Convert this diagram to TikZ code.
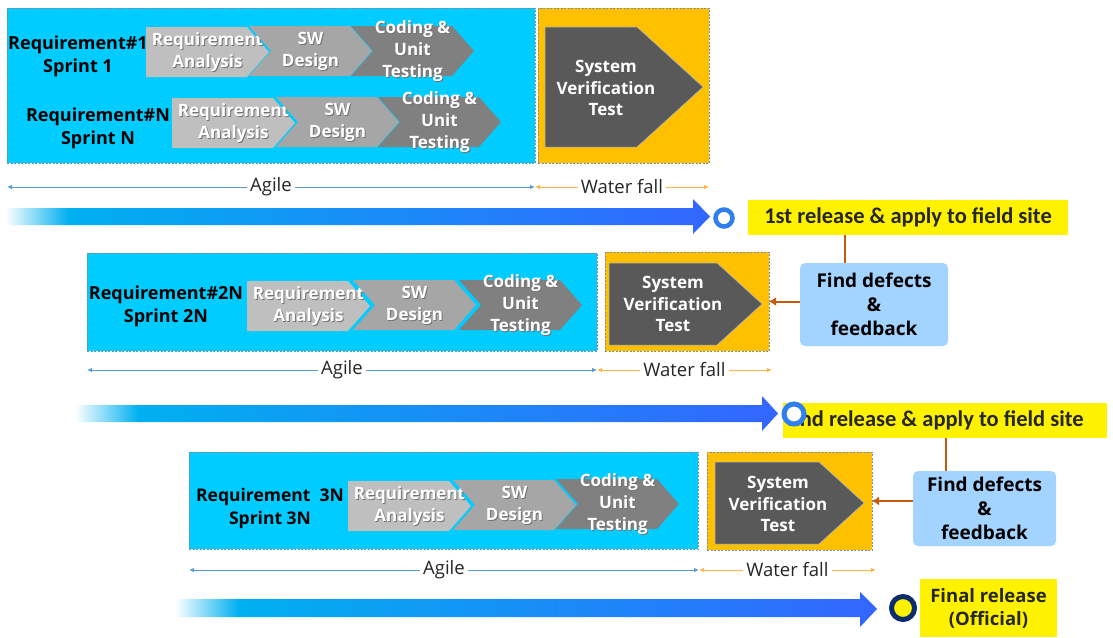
\documentclass[tikz,border=0pt]{standalone}
\usepackage{fontspec}
\setmainfont{Open Sans}
\newfontfamily\relfont{Carlito}
\usetikzlibrary{arrows.meta}

\definecolor{agcyan}{HTML}{00CCFF}
\definecolor{wforange}{HTML}{FFC000}
\definecolor{chgrayA}{HTML}{BFBFBF}
\definecolor{chgrayB}{HTML}{A6A6A6}
\definecolor{chgrayC}{HTML}{808080}
\definecolor{svtgray}{HTML}{595959}
\definecolor{boxedge}{HTML}{7A8CA8}
\definecolor{agblue}{HTML}{5B9BD5}
\definecolor{wfline}{HTML}{FFB347}
\definecolor{relcyan}{HTML}{00B0F0}
\definecolor{relblue}{HTML}{3366FF}
\definecolor{ringblue}{HTML}{2F80ED}
\definecolor{ringnavy}{HTML}{0B2D6B}
\definecolor{fbblue}{HTML}{A3D3FF}
\definecolor{fbbrown}{HTML}{C55A11}

\pgfdeclarehorizontalshading{relshade}{100bp}{color(0bp)=(white); color(25bp)=(white); color(29.5bp)=(relcyan); color(75bp)=(relblue); color(100bp)=(relblue)}

\tikzset{
  agilebox/.style={fill=agcyan, draw=boxedge, dash pattern=on 2pt off 1.5pt, line width=0.6pt, inner sep=0pt, outer sep=0pt},
  wfbox/.style={agilebox, fill=wforange},
  chevtext/.style={text=white, font=\bfseries\fontsize{17}{22}\selectfont, align=center, inner sep=0pt},
  chevshadow/.style={chevtext, text=black!55},
  svttext/.style={text=white, font=\bfseries\fontsize{17}{21.5}\selectfont, align=center, inner sep=0pt},
  reqlabel/.style={font=\bfseries\fontsize{18}{23}\selectfont, align=center, inner sep=0pt},
  spanlabel/.style={fill=white, text=black!85, font=\fontsize{18.5}{20}\selectfont, inner sep=3pt},
  agileline/.style={agblue, line width=0.8pt, {Latex[length=5pt,width=4.5pt]}-{Latex[length=5pt,width=4.5pt]}},
  wfspan/.style={wfline, line width=0.8pt, {Latex[length=5pt,width=4.5pt]}-{Latex[length=5pt,width=4.5pt]}},
  relbox/.style={fill=yellow, text=black!85, font=\relfont\bfseries\fontsize{22.5}{24}\selectfont, inner sep=0pt, minimum height=35pt},
  fbbox/.style={fill=fbblue, rounded corners=5pt, align=center, inner sep=0pt, font=\bfseries\fontsize{19}{24}\selectfont},
  fbline/.style={fbbrown, line width=2pt},
  fbarrow/.style={fbline, -{Latex[length=7pt,width=9pt]}},
  ring/.style={circle, fill=white, draw=ringblue, inner sep=0pt}
}

% chevron: name, left x, centre y, fill, notch depth, text
\newcommand{\chev}[6]{%
  \fill[#4] (#2,#3-25) -- ++(101,0) -- ++(22,25) -- ++(-22,25) -- ++(-101,0) -- ++(#5,-25) -- cycle;
  \node[chevshadow] at (#2+62.5,#3+1) {#6};
  \node[chevtext] (#1) at (#2+61.5,#3) {#6};}

\begin{document}
\begin{tikzpicture}[x=1pt, y=-1pt]
  \useasboundingbox (0,0) rectangle (1113,637);

  % sprint 1 .. N
  \node[agilebox, minimum width=528pt, minimum height=155pt] (ag1) at (271,85.5) {};
  \node[wfbox, minimum width=171pt, minimum height=155pt] (wf1) at (623.5,85.5) {};
  \node[reqlabel] (req1) at (78,56) {Requirement\#1\\Sprint 1};
  \node[reqlabel] (reqn) at (98,128) {Requirement\#N\\Sprint N};
  \chev{ra1}{146}{52}{chgrayA}{0}{Requirement\\Analysis}
  \chev{sw1}{249}{51}{chgrayB}{22}{SW\\Design}
  \chev{ct1}{351}{51}{chgrayC}{22}{Coding \&\\Unit\\Testing}
  \chev{ran}{172}{123}{chgrayA}{0}{Requirement\\Analysis}
  \chev{swn}{276}{122}{chgrayB}{22}{SW\\Design}
  \chev{ctn}{378}{122}{chgrayC}{22}{Coding \&\\Unit\\Testing}
  \fill[svtgray, draw=boxedge!60, line width=0.5pt] (545,27) -- (637,27) -- (703,87) -- (637,147) -- (545,147) -- cycle;
  \node[svttext] (svt1) at (606,88) {System\\Verification\\Test};

  \coordinate (sp1a) at (7,187);
  \coordinate (sp1b) at (535,187);
  \coordinate (sp1c) at (709,187);
  \draw[agileline] (sp1a) -- node[spanlabel] {Agile} (sp1b);
  \draw[wfspan] (sp1b) -- node[spanlabel] {Water fall} (sp1c);

  \shade[shading=relshade] (5,208) -- (693,208) -- (693,199) -- (710,216.5) -- (693,234) -- (693,225) -- (5,225) -- cycle;
  \node[relbox, minimum width=320pt] (rel1) at (908,217.5) {1st release \& apply to field site};
  \node[ring, minimum size=17pt, line width=4.5pt] (rc1) at (724,218) {};

  % sprint 2N
  \node[agilebox, minimum width=510pt, minimum height=98pt] (ag2) at (342,302) {};
  \node[wfbox, minimum width=164pt, minimum height=99pt] (wf2) at (687,301.5) {};
  \node[reqlabel] (req2) at (166,306) {Requirement\#2N\\Sprint 2N};
  \chev{ra2}{247}{306}{chgrayA}{0}{Requirement\\Analysis}
  \chev{sw2}{353}{305}{chgrayB}{22}{SW\\Design}
  \chev{ct2}{459}{305}{chgrayC}{22}{Coding \&\\Unit\\Testing}
  \fill[svtgray, draw=boxedge!60, line width=0.5pt] (609,263) -- (717,263) -- (762,304) -- (717,345) -- (609,345) -- cycle;
  \node[svttext] (svt2) at (673,304) {System\\Verification\\Test};

  \node[fbbox, minimum width=148pt, minimum height=83pt] (fb1) at (874,304.5) {Find defects\\\&\\feedback};
  \coordinate (fb1top) at (845,235);
  \draw[fbline] (fb1top) -- (fb1top |- fb1.north);
  \draw[fbarrow] (wf2.east -| fb1.west) -- (wf2.east);

  \coordinate (sp2a) at (87,370);
  \coordinate (sp2b) at (597,370);
  \coordinate (sp2c) at (772,370);
  \draw[agileline] (sp2a) -- node[spanlabel] {Agile} (sp2b);
  \draw[wfspan] (sp2b) -- node[spanlabel] {Water fall} (sp2c);

  \shade[shading=relshade] (75,405) -- (762,405) -- (762,396) -- (778,413.5) -- (762,431) -- (762,422) -- (75,422) -- cycle;
  \node[relbox, minimum width=324pt] (rel2) at (945,420.5) {\hspace*{-18pt}2nd release \& apply to field site};
  \node[ring, minimum size=20pt, line width=5pt] (rc2) at (794,414) {};

  % sprint 3N
  \node[agilebox, minimum width=509pt, minimum height=97pt] (ag3) at (443.5,500.5) {};
  \node[wfbox, minimum width=165pt, minimum height=98pt] (wf3) at (789.5,501) {};
  \node[reqlabel, font=\bfseries\fontsize{17.5}{23}\selectfont] (req3) at (270,508) {Requirement~ 3N\\Sprint 3N};
  \chev{ra3}{348}{506}{chgrayA}{0}{Requirement\\Analysis}
  \chev{sw3}{453}{505}{chgrayB}{22}{SW\\Design}
  \chev{ct3}{556}{504}{chgrayC}{22}{Coding \&\\Unit\\Testing}
  \fill[svtgray, draw=boxedge!60, line width=0.5pt] (715,462) -- (819,462) -- (864,503) -- (819,544) -- (715,544) -- cycle;
  \node[svttext] (svt3) at (778,504) {System\\Verification\\Test};

  \node[fbbox, minimum width=143pt, minimum height=75pt] (fb2) at (984.5,508.5) {Find defects\\\&\\feedback};
  \coordinate (fb2top) at (946,438);
  \draw[fbline] (fb2top) -- (fb2top |- fb2.north);
  \draw[fbarrow] (wf3.east -| fb2.west) -- (wf3.east);

  \coordinate (sp3a) at (189,570);
  \coordinate (sp3b) at (699,570);
  \coordinate (sp3c) at (876,570);
  \draw[agileline] (sp3a) -- node[spanlabel] {Agile} (sp3b);
  \draw[wfspan] (sp3b) -- node[spanlabel] {Water fall} (sp3c);

  \shade[shading=relshade] (175,599) -- (860,599) -- (860,592) -- (877,609) -- (860,627) -- (860,617) -- (175,617) -- cycle;
  \node[relbox, minimum width=137pt, minimum height=58pt, align=center, font=\bfseries\fontsize{18.5}{23}\selectfont] (rel3) at (988.5,608) {Final release\\(Official)};
  \node[ring, fill=yellow, draw=ringnavy, minimum size=23pt, line width=5pt] (rc3) at (903,608) {};
\end{tikzpicture}
\end{document}
